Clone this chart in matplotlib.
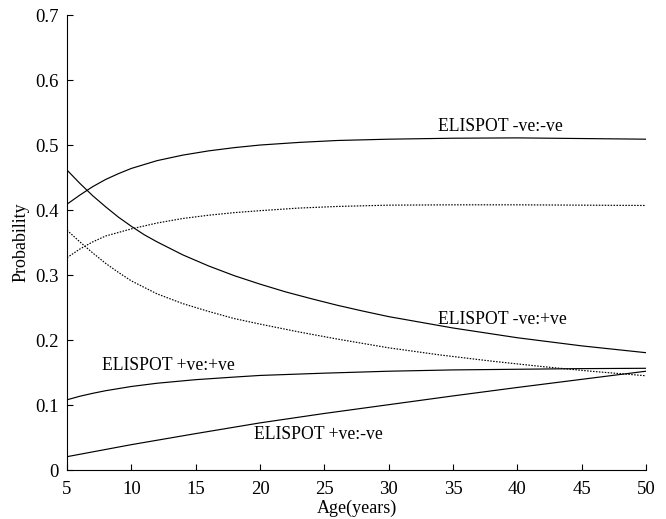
import numpy as np
import matplotlib
matplotlib.use("Agg")
import matplotlib.pyplot as plt

plt.rcParams["font.family"] = ["Liberation Serif", "DejaVu Serif"]

# values
age_nn = [5, 6, 7, 8, 9, 10, 12, 14, 16, 18, 20, 23, 26, 30, 35, 40, 45, 50]
p_nn = [0.409, 0.423, 0.436, 0.447, 0.456, 0.464, 0.476, 0.4845, 0.491, 0.496, 0.500,
        0.504, 0.507, 0.509, 0.5105, 0.511, 0.510, 0.509]

age_np = [5, 6, 7, 8, 9, 10, 11, 12, 14, 16, 18, 20, 22, 24, 26, 28, 30, 35, 40, 45, 50]
p_np = [0.4615, 0.441, 0.422, 0.405, 0.389, 0.375, 0.362, 0.351, 0.331, 0.314, 0.299,
        0.286, 0.274, 0.2635, 0.2535, 0.2445, 0.236, 0.2185, 0.2035, 0.1910, 0.1805]

age_pp = [5, 6, 7, 8, 10, 12, 15, 18, 20, 25, 30, 35, 40, 45, 50]
p_pp = [0.108, 0.1135, 0.118, 0.122, 0.1285, 0.1335, 0.139, 0.143, 0.1455, 0.149,
        0.152, 0.154, 0.155, 0.156, 0.1565]

age_pn = [5, 10, 15, 20, 25, 30, 35, 40, 45, 50]
p_pn = [0.0205, 0.039, 0.056, 0.0725, 0.087, 0.1005, 0.114, 0.127, 0.1395, 0.152]

age_nn_dot = [5, 6, 7, 8, 10, 12, 14, 16, 18, 20, 23, 26, 30, 35, 40, 45, 50]
p_nn_dot = [0.3267, 0.340, 0.351, 0.360, 0.371, 0.380, 0.387, 0.392, 0.396, 0.399,
            0.403, 0.4055, 0.4075, 0.408, 0.408, 0.4075, 0.407]

age_np_dot = [5, 6, 7, 8, 9, 10, 12, 14, 16, 18, 20, 23, 26, 30, 34, 38, 42, 46, 50]
p_np_dot = [0.369, 0.351, 0.334, 0.318, 0.304, 0.291, 0.271, 0.256, 0.244, 0.233,
            0.2245, 0.2125, 0.2015, 0.188, 0.177, 0.1675, 0.159, 0.1515, 0.145]

labels = ["ELISPOT -ve:-ve", "ELISPOT -ve:+ve", "ELISPOT +ve:+ve", "ELISPOT +ve:-ve"]
label_pos = [(38.7, 0.529), (38.8, 0.232), (12.9, 0.1615), (24.5, 0.054)]

fig = plt.figure(figsize=(6.66, 5.19), dpi=100)
ax = fig.add_axes([0.1006, 0.0944, 0.8694, 0.8766])

solid = dict(color="black", lw=0.85)
dotted = dict(color="black", lw=0.85, linestyle=(0, (1.3, 1.2)))
ax.plot(age_nn, p_nn, **solid)
ax.plot(age_np, p_np, **solid)
ax.plot(age_pp, p_pp, **solid)
ax.plot(age_pn, p_pn, **solid)
ax.plot(age_nn_dot, p_nn_dot, **dotted)
ax.plot(age_np_dot, p_np_dot, **dotted)

for txt, (x, y) in zip(labels, label_pos):
    ax.text(x, y, txt, fontsize=12.7, ha="center", va="center")

ax.set_xlim(5, 50)
ax.set_ylim(0, 0.7)
ax.set_xticks(np.arange(5, 51, 5))
ax.set_yticks(np.arange(0, 0.71, 0.1))
ax.set_yticklabels(["0", "0.1", "0.2", "0.3", "0.4", "0.5", "0.6", "0.7"])
ax.tick_params(direction="in", labelsize=13.5, length=4, width=0.8)
ax.tick_params(axis="x", pad=8)
ax.tick_params(axis="y", pad=6)
ax.spines["top"].set_visible(False)
ax.spines["right"].set_visible(False)
for s in ("left", "bottom"):
    ax.spines[s].set_linewidth(0.8)
ax.set_xlabel("Age(years)", fontsize=13, labelpad=1)
ax.set_ylabel("Probability", fontsize=13, labelpad=4)

fig.savefig("out.png", dpi=100)
